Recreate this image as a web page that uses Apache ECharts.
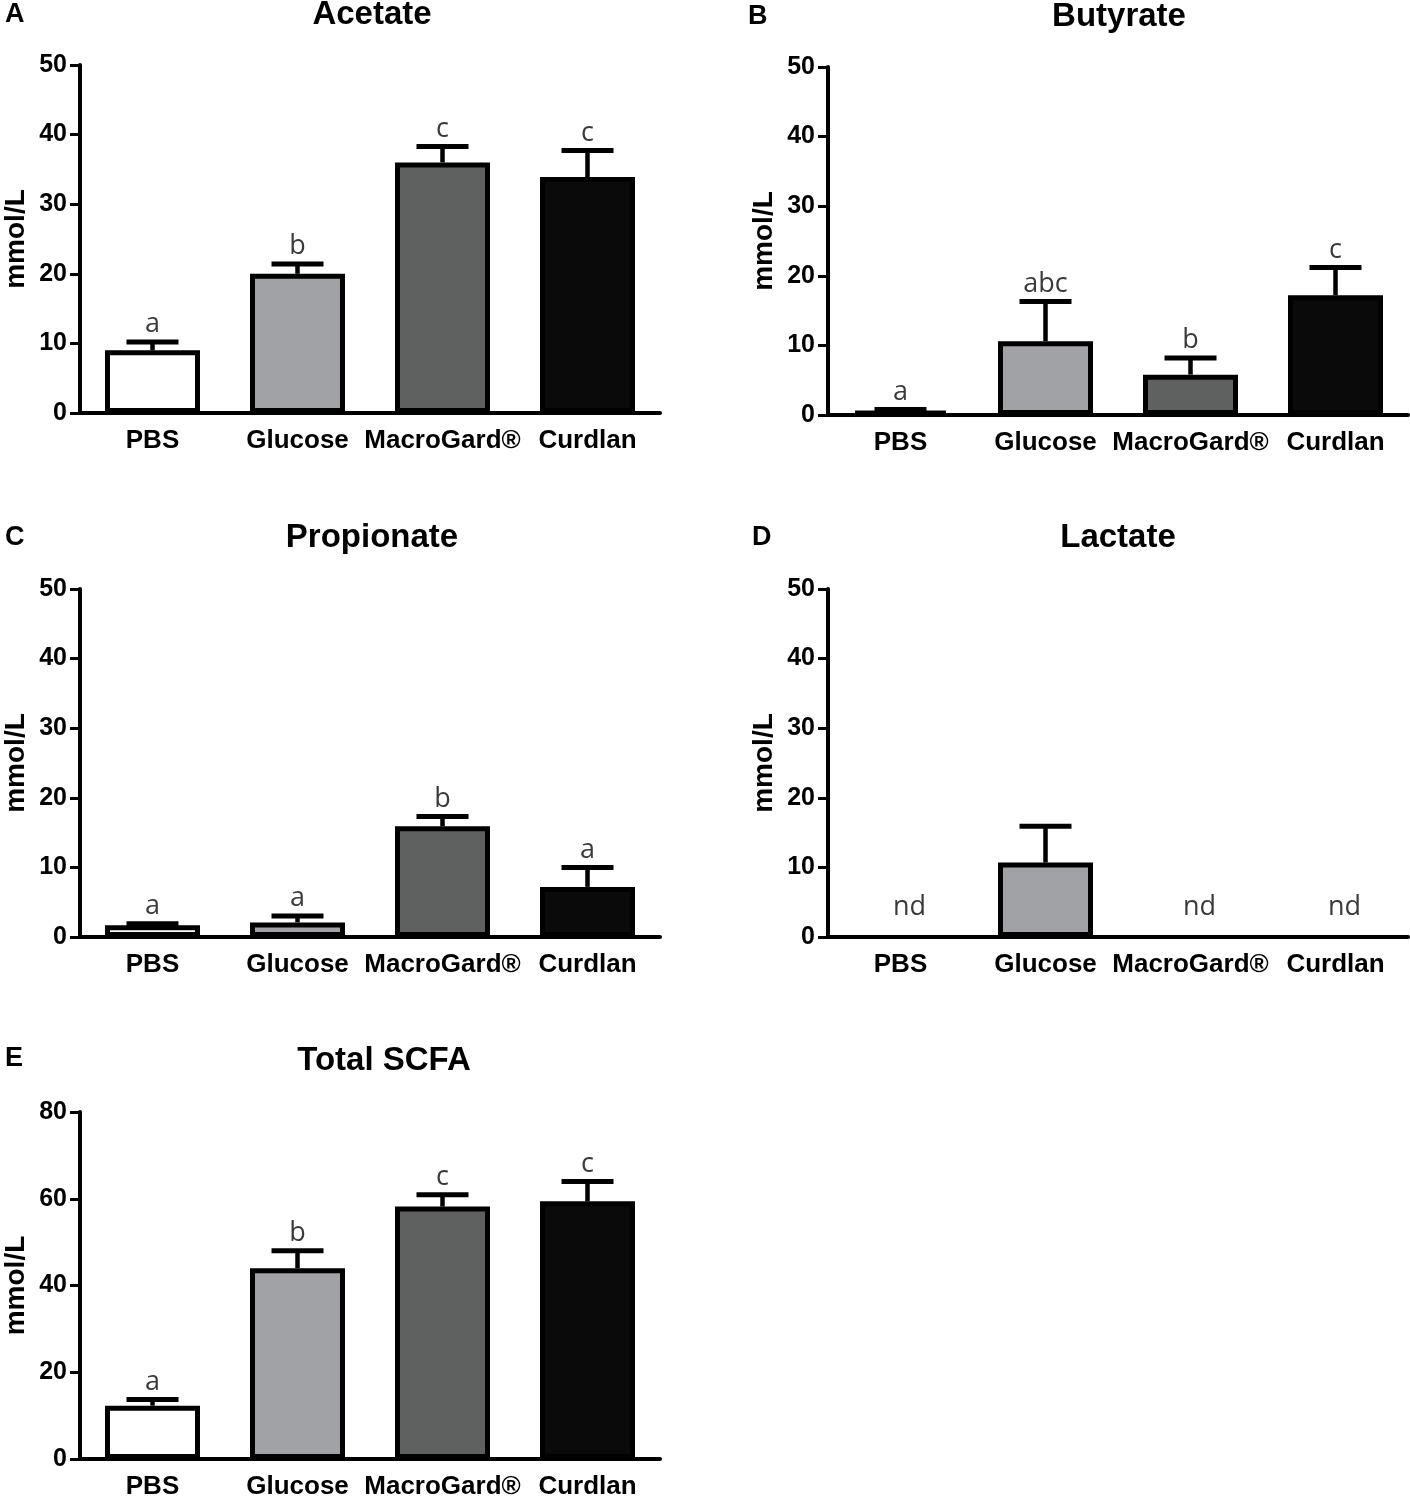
<!DOCTYPE html>
<html>
<head>
<meta charset="utf-8">
<script src="https://cdn.jsdelivr.net/npm/echarts@6/dist/echarts.min.js"></script>
<style>
  html, body { margin: 0; padding: 0; background: #fff; }
  #chart { width: 1410px; height: 1500px; }
</style>
</head>
<body>
<div id="chart"></div>
<script>
const categories = ['PBS', 'Glucose', 'MacroGard®', 'Curdlan'];
const barColors = ['#ffffff', '#a1a2a6', '#5f6060', '#0a0a0a'];

const acetateMean = [9.0, 20.0, 36.0, 33.9];
const acetateErr = [1.2, 1.4, 2.3, 3.8];
const acetateLetters = ['a', 'b', 'c', 'c'];

const butyrateMean = [0.6, 10.6, 5.8, 17.2];
const butyrateErr = [0.2, 5.7, 2.4, 4.0];
const butyrateLetters = ['a', 'abc', 'b', 'c'];

const propionateMean = [1.7, 2.1, 15.9, 7.2];
const propionateErr = [0.2, 0.9, 1.4, 2.8];
const propionateLetters = ['a', 'a', 'b', 'a'];

const lactateMean = [null, 10.7, null, null];
const lactateErr = [null, 5.2, null, null];
const lactateLetters = ['nd', '', 'nd', 'nd'];

const totalMean = [12.3, 44.0, 58.2, 59.4];
const totalErr = [1.4, 4.0, 2.7, 4.6];
const totalLetters = ['a', 'b', 'c', 'c'];

const boldFont = '"Liberation Sans", Arial, Helvetica, sans-serif';
const letterFont = '27px "Open Sans", "Noto Sans", sans-serif';

const panels = [
  { tag: 'A', title: 'Acetate', mean: acetateMean, err: acetateErr, letters: acetateLetters, max: 50, interval: 10,
    left: 80, top: 65, height: 348, titleX: 372, titleY: 15, tagX: 5, tagY: 15 },
  { tag: 'B', title: 'Butyrate', mean: butyrateMean, err: butyrateErr, letters: butyrateLetters, max: 50, interval: 10,
    left: 828, top: 67, height: 348, titleX: 1119, titleY: 17, tagX: 748, tagY: 17 },
  { tag: 'C', title: 'Propionate', mean: propionateMean, err: propionateErr, letters: propionateLetters, max: 50, interval: 10,
    left: 80, top: 589, height: 348, titleX: 372, titleY: 538, tagX: 5, tagY: 538 },
  { tag: 'D', title: 'Lactate', mean: lactateMean, err: lactateErr, letters: lactateLetters, max: 50, interval: 10,
    left: 828, top: 589, height: 348, titleX: 1118, titleY: 538, tagX: 752, tagY: 538 },
  { tag: 'E', title: 'Total SCFA', mean: totalMean, err: totalErr, letters: totalLetters, max: 80, interval: 20,
    left: 80, top: 1112, height: 350, titleX: 384, titleY: 1061, tagX: 5, tagY: 1059 }
];

function errorRenderer(mean, err, letters) {
  return function (params, api) {
    const i = params.dataIndex;
    const m = mean[i];
    const t = letters[i];
    const children = [];
    if (m != null) {
      const p0 = api.coord([i, m]);
      const p1 = api.coord([i, m + err[i]]);
      children.push({ type: 'line', shape: { x1: p0[0], y1: p0[1], x2: p1[0], y2: p1[1] },
        style: { stroke: '#000', lineWidth: 4.5 } });
      children.push({ type: 'line', shape: { x1: p1[0] - 26, y1: p1[1], x2: p1[0] + 26, y2: p1[1] },
        style: { stroke: '#000', lineWidth: 5 } });
      if (t) {
        children.push({ type: 'text', x: p1[0], y: p1[1] - 4,
          style: { text: t, font: letterFont, fill: '#3a3a3a', align: 'center', verticalAlign: 'bottom' } });
      }
    } else if (t) {
      const b = api.coord([i, 0]);
      children.push({ type: 'text', x: b[0] + 9, y: b[1] - 16,
        style: { text: t, font: letterFont, fill: '#3a3a3a', align: 'center', verticalAlign: 'bottom' } });
    }
    return { type: 'group', children };
  };
}

const grids = [], xAxes = [], yAxes = [], series = [], graphics = [];

panels.forEach((p, k) => {
  grids.push({ left: p.left, top: p.top, width: 580, height: p.height, containLabel: false });

  xAxes.push({
    type: 'category', gridIndex: k, data: categories,
    axisLine: { lineStyle: { color: '#000', width: 4 } },
    axisTick: { alignWithLabel: true, length: 11, lineStyle: { color: '#000', width: 3 } },
    axisLabel: { interval: 0, margin: 15, color: '#000', fontSize: 26, fontWeight: 'bold', fontFamily: boldFont }
  });

  yAxes.push({
    type: 'value', gridIndex: k, min: 0, max: p.max, interval: p.interval,
    name: 'mmol/L', nameLocation: 'middle', nameGap: 50, nameRotate: 90,
    nameTextStyle: { color: '#000', fontSize: 28, fontWeight: 'bold', fontFamily: boldFont },
    splitLine: { show: false },
    axisLine: { show: true, lineStyle: { color: '#000', width: 4 } },
    axisTick: { show: true, length: 10, lineStyle: { color: '#000', width: 3 } },
    axisLabel: { margin: 13, color: '#000', fontSize: 25, fontWeight: 'bold', fontFamily: boldFont }
  });

  series.push({
    type: 'bar', xAxisIndex: k, yAxisIndex: k, barWidth: 95, z: 2,
    data: p.mean.map((v, i) => ({
      value: v == null ? '-' : v,
      itemStyle: { color: barColors[i], borderColor: '#000', borderWidth: 5 }
    }))
  });

  series.push({
    type: 'custom', xAxisIndex: k, yAxisIndex: k, z: 3,
    renderItem: errorRenderer(p.mean, p.err, p.letters),
    data: categories.map((c, i) => [i, p.mean[i] == null ? 0 : p.mean[i] + p.err[i]])
  });

  graphics.push({ type: 'text', x: p.titleX, y: p.titleY,
    style: { text: p.title, font: 'bold 33px ' + boldFont, fill: '#000', align: 'center', verticalAlign: 'middle' } });
  graphics.push({ type: 'text', x: p.tagX, y: p.tagY,
    style: { text: p.tag, font: 'bold 27px ' + boldFont, fill: '#000', align: 'left', verticalAlign: 'middle' } });
});

const chart = echarts.init(document.getElementById('chart'), null, { renderer: 'canvas' });
chart.setOption({
  animation: false,
  backgroundColor: '#fff',
  grid: grids,
  xAxis: xAxes,
  yAxis: yAxes,
  series: series,
  graphic: graphics
});
</script>
</body>
</html>
